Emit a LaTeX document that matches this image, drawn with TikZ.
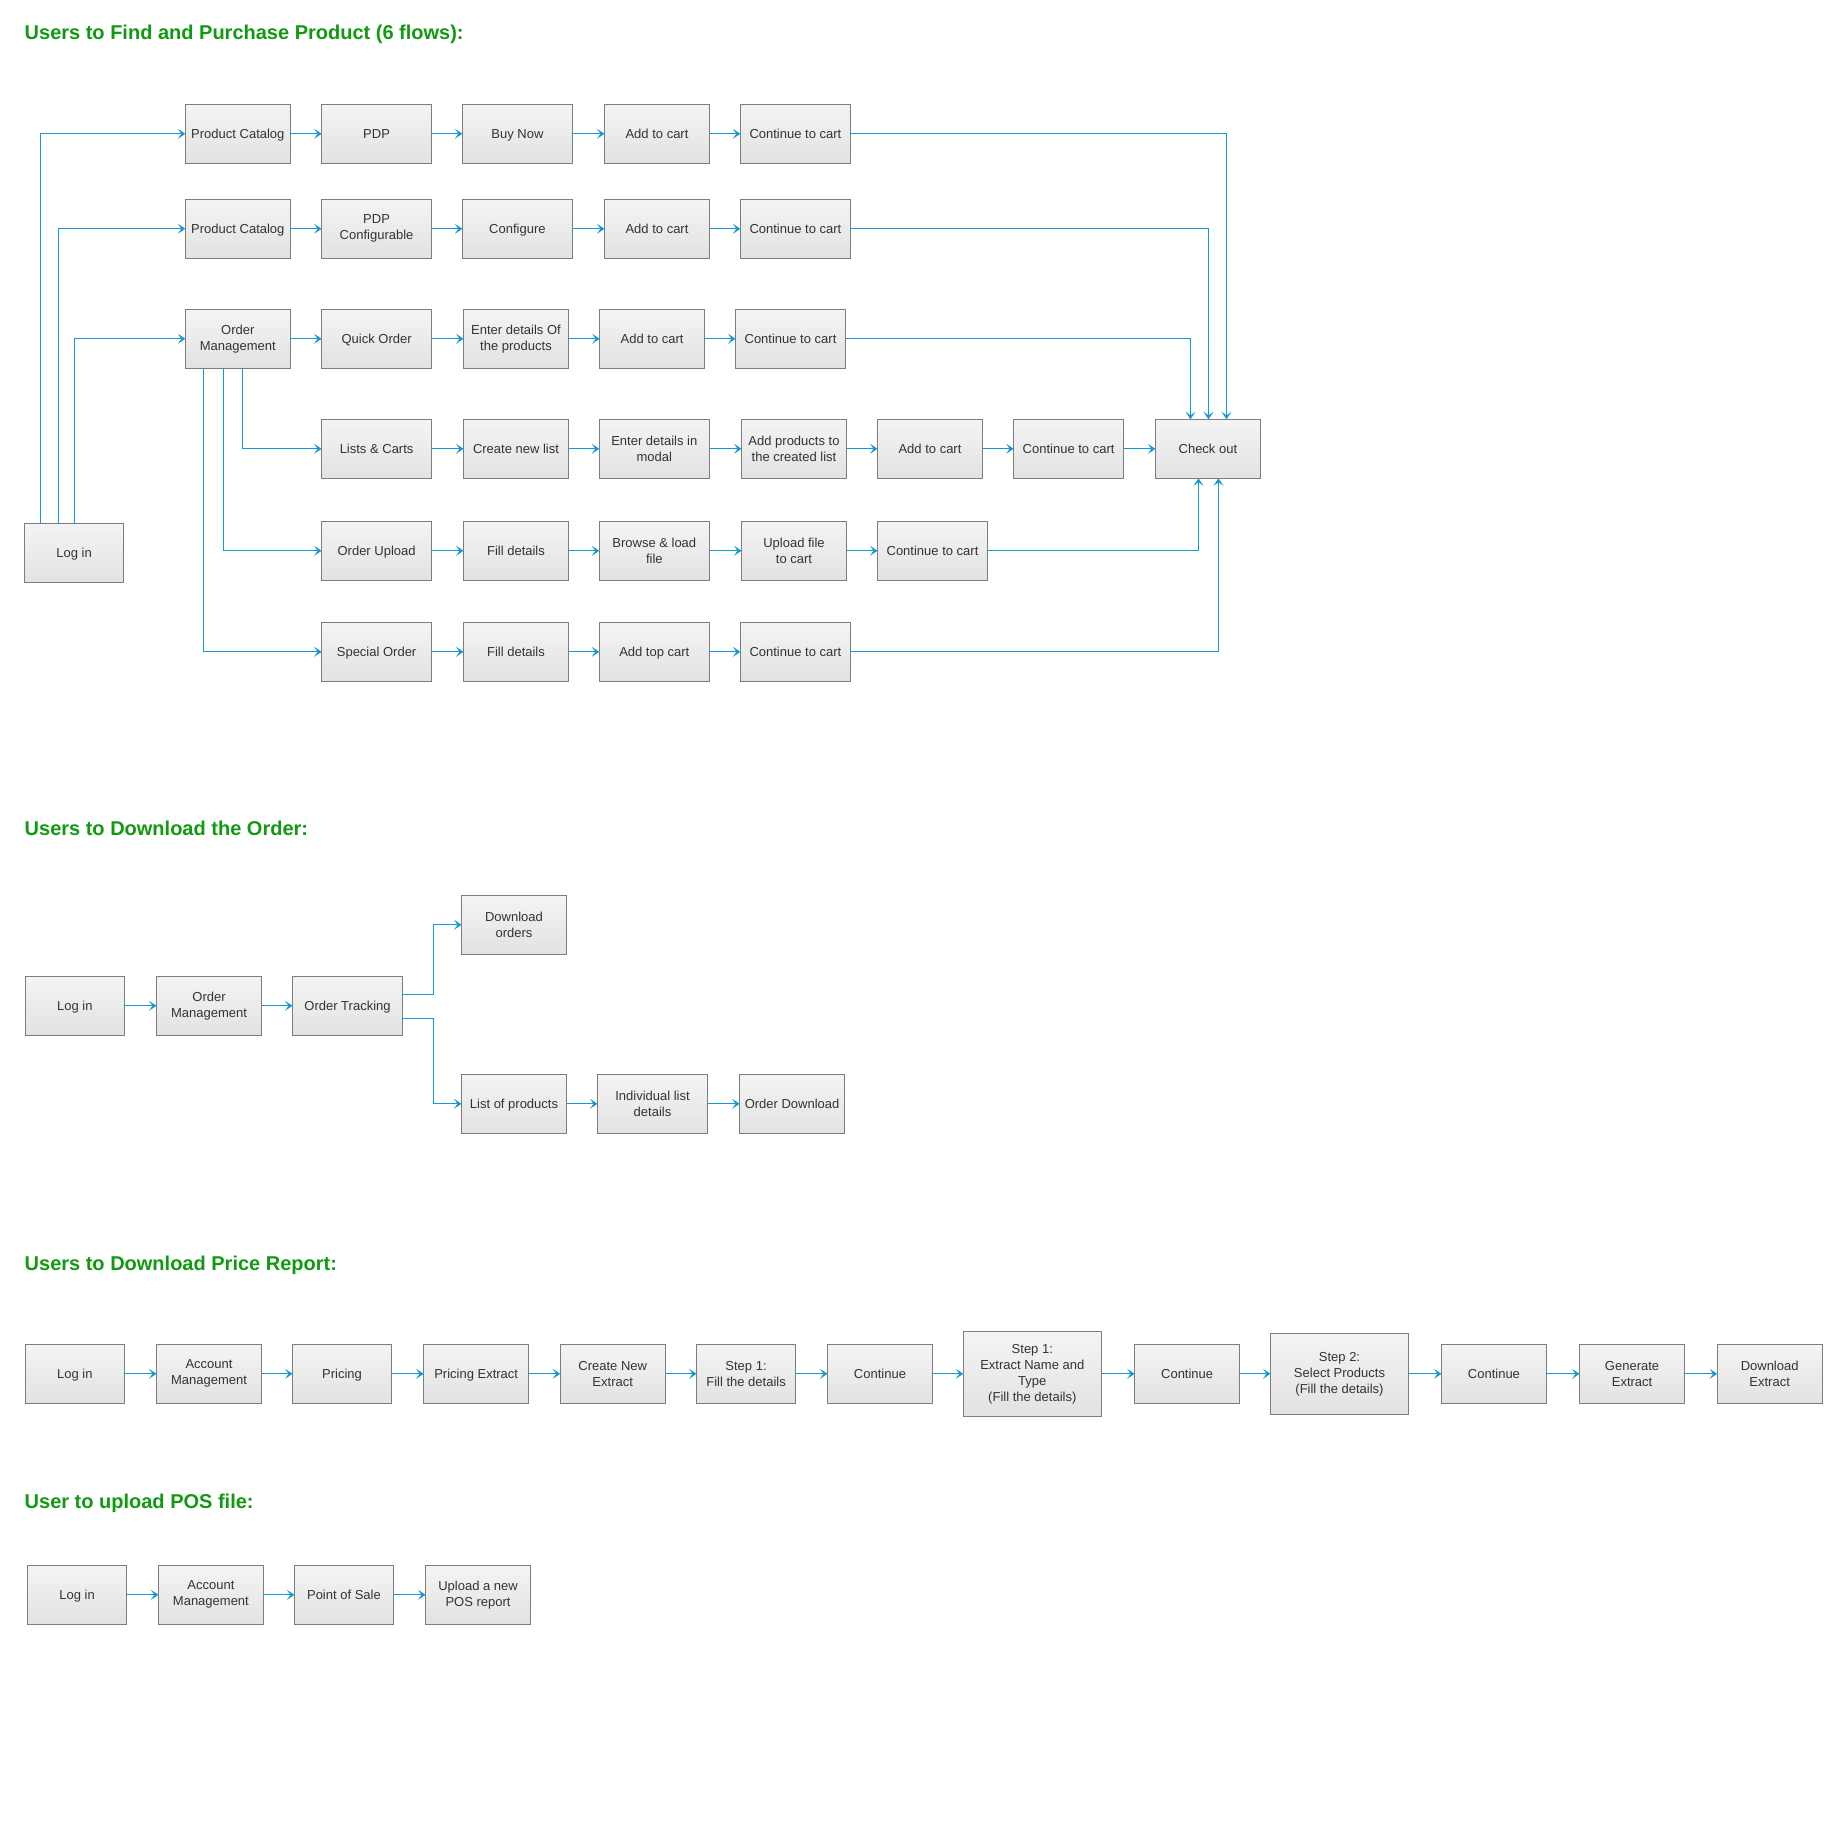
\documentclass[tikz,border=0pt]{standalone}
\usepackage{fontspec}
\setmainfont{Liberation Sans}
\usetikzlibrary{arrows.meta}
\definecolor{linec}{RGB}{20,154,210}
\definecolor{boxline}{RGB}{125,125,125}
\definecolor{boxtop}{RGB}{244,244,244}
\definecolor{boxbot}{RGB}{226,226,226}
\definecolor{txt}{RGB}{51,51,51}
\definecolor{ttl}{RGB}{17,153,17}
\begin{document}
\begin{tikzpicture}[x=1pt,y=-1pt,
 box/.style={draw=boxline, line width=1.3pt, top color=boxtop, bottom color=boxbot,
   minimum height=59pt, minimum width=105pt, inner sep=2pt, outer sep=0pt,
   align=center, font=\fontsize{13}{16}\selectfont, text=txt},
 one/.style={text height=11.8pt, text depth=2.8pt},
 wide/.style={minimum width=110pt},
 narrow/.style={minimum width=99pt},
 arr/.style={draw=linec, line width=1.2pt, -{Stealth[length=7.5pt,width=10pt,inset=3.5pt]}},
 ttlstyle/.style={anchor=base west, font=\fontsize{20}{24}\selectfont\bfseries, text=ttl, inner sep=0pt}]
\useasboundingbox (0,0) rectangle (1823,1825);

% ---------------- Section 1 ----------------
\node[ttlstyle] (t1) at (24.5,39.5) {Users to Find and Purchase Product (6 flows):};

\node[box,one] (pc1) at (237.85,133.8) {Product Catalog};
\node[box,wide,one] (pdp1) at (376.6,133.8) {PDP};
\node[box,wide,one] (buy) at (517.4,133.8) {Buy Now};
\node[box,one] (atc1) at (657,133.8) {Add to cart};
\node[box,wide,one] (ctc1) at (795.4,133.8) {Continue to cart};

\node[box,one] (pc2) at (237.85,228.8) {Product Catalog};
\node[box,wide] (pdp2) at (376.6,228.8) {PDP\\Configurable};
\node[box,wide,one] (conf) at (517.4,228.8) {Configure};
\node[box,one] (atc2) at (657,228.8) {Add to cart};
\node[box,wide,one] (ctc2) at (795.4,228.8) {Continue to cart};

\node[box] (om) at (237.85,338.8) {Order\\Management};
\node[box,wide,one] (qo) at (376.6,338.8) {Quick Order};
\node[box] (edp) at (516,338.8) {Enter details Of\\the products};
\node[box,one] (atc3) at (652.1,338.8) {Add to cart};
\node[box,wide,one] (ctc3) at (790.5,338.8) {Continue to cart};

\node[box,wide,one] (lc) at (376.6,448.8) {Lists \& Carts};
\node[box,one] (cnl) at (516,448.8) {Create new list};
\node[box,wide] (edm) at (654.3,448.8) {Enter details in\\modal};
\node[box] (apl) at (794,448.8) {Add products to\\the created list};
\node[box,one] (atc4) at (930,448.8) {Add to cart};
\node[box,wide,one] (ctc4) at (1068.6,448.8) {Continue to cart};
\node[box,one] (co) at (1207.9,448.8) {Check out};

\node[box,wide,one] (ou) at (376.6,550.8) {Order Upload};
\node[box,one] (fd1) at (516,550.8) {Fill details};
\node[box,wide] (bl) at (654.3,550.8) {Browse \& load\\file};
\node[box] (uf) at (794,550.8) {Upload file\\to cart};
\node[box,wide,one] (ctc5) at (932.5,550.8) {Continue to cart};

\node[box,wide,one] (so) at (376.6,651.8) {Special Order};
\node[box,one] (fd2) at (516,651.8) {Fill details};
\node[box,wide,one] (atc6) at (654.3,651.8) {Add top cart};
\node[box,wide,one] (ctc6) at (795.4,651.8) {Continue to cart};

\node[box,narrow,one] (login1) at (74.05,553) {Log in};

\draw[arr] ([xshift=-33.55pt]login1.north) |- (pc1.west);
\draw[arr] ([xshift=-15.55pt]login1.north) |- (pc2.west);
\draw[arr] ([xshift=0.45pt]login1.north) |- (om.west);

\draw[arr] (pc1) -- (pdp1);
\draw[arr] (pdp1) -- (buy);
\draw[arr] (buy) -- (atc1);
\draw[arr] (atc1) -- (ctc1);

\draw[arr] (pc2) -- (pdp2);
\draw[arr] (pdp2) -- (conf);
\draw[arr] (conf) -- (atc2);
\draw[arr] (atc2) -- (ctc2);

\draw[arr] (om) -- (qo);
\draw[arr] (qo) -- (edp);
\draw[arr] (edp) -- (atc3);
\draw[arr] (atc3) -- (ctc3);

\draw[arr] ([xshift=4.35pt]om.south) |- (lc.west);
\draw[arr] ([xshift=-14.35pt]om.south) |- (ou.west);
\draw[arr] ([xshift=-34.35pt]om.south) |- (so.west);

\draw[arr] (lc) -- (cnl);
\draw[arr] (cnl) -- (edm);
\draw[arr] (edm) -- (apl);
\draw[arr] (apl) -- (atc4);
\draw[arr] (atc4) -- (ctc4);
\draw[arr] (ctc4) -- (co);

\draw[arr] (ou) -- (fd1);
\draw[arr] (fd1) -- (bl);
\draw[arr] (bl) -- (uf);
\draw[arr] (uf) -- (ctc5);

\draw[arr] (so) -- (fd2);
\draw[arr] (fd2) -- (atc6);
\draw[arr] (atc6) -- (ctc6);

\draw[arr] (ctc1.east) -| ([xshift=18.6pt]co.north);
\draw[arr] (ctc2.east) -| ([xshift=0.6pt]co.north);
\draw[arr] (ctc3.east) -| ([xshift=-17.4pt]co.north);
\draw[arr] (ctc5.east) -| ([xshift=-9.4pt]co.south);
\draw[arr] (ctc6.east) -| ([xshift=10.6pt]co.south);

% ---------------- Section 2 ----------------
\node[ttlstyle] (t2) at (24.5,835) {Users to Download the Order:};

\node[box,narrow,one] (login2) at (74.85,1005.8) {Log in};
\node[box] (om2) at (209,1005.8) {Order\\Management};
\node[box,wide,one] (ot) at (347.5,1005.8) {Order Tracking};
\node[box] (dlo) at (514,924.8) {Download\\orders};
\node[box,one] (lop) at (514,1103.8) {List of products};
\node[box,wide] (ild) at (652.5,1103.8) {Individual list\\details};
\node[box,one] (odl) at (792.1,1103.8) {Order Download};

\draw[arr] (login2) -- (om2);
\draw[arr] (om2) -- (ot);
\draw[arr] ([yshift=11.5pt]ot.east) -- ++(30.9,0) |- (dlo.west);
\draw[arr] ([yshift=-12.5pt]ot.east) -- ++(30.9,0) |- (lop.west);
\draw[arr] (lop) -- (ild);
\draw[arr] (ild) -- (odl);

% ---------------- Section 3 ----------------
\node[ttlstyle] (t3) at (24.5,1270) {Users to Download Price Report:};

\node[box,narrow,one] (login3) at (74.85,1373.8) {Log in};
\node[box] (am3) at (209,1373.8) {Account\\Management};
\node[box,narrow,one] (pr) at (342.05,1373.8) {Pricing};
\node[box,one] (pe) at (476.15,1373.8) {Pricing Extract};
\node[box] (cne) at (612.7,1373.8) {Create New\\Extract};
\node[box,narrow] (s1f) at (746.05,1373.8) {Step 1:\\Fill the details};
\node[box,one] (cnt1) at (880,1373.8) {Continue};
\node[box,minimum width=138pt,minimum height=85pt] (s1e) at (1032.3,1373.8) {Step 1:\\Extract Name and\\Type\\(Fill the details)};
\node[box,one] (cnt2) at (1187.15,1373.8) {Continue};
\node[box,minimum width=138pt,minimum height=81pt] (s2) at (1339.5,1373.8) {Step 2:\\Select Products\\(Fill the details)};
\node[box,one] (cnt3) at (1493.95,1373.8) {Continue};
\node[box] (gen) at (1632.05,1373.8) {Generate\\Extract};
\node[box] (dle) at (1769.65,1373.8) {Download\\Extract};

\draw[arr] (login3) -- (am3);
\draw[arr] (am3) -- (pr);
\draw[arr] (pr) -- (pe);
\draw[arr] (pe) -- (cne);
\draw[arr] (cne) -- (s1f);
\draw[arr] (s1f) -- (cnt1);
\draw[arr] (cnt1) -- (s1e);
\draw[arr] (s1e) -- (cnt2);
\draw[arr] (cnt2) -- (s2);
\draw[arr] (s2) -- (cnt3);
\draw[arr] (cnt3) -- (gen);
\draw[arr] (gen) -- (dle);

% ---------------- Section 4 ----------------
\node[ttlstyle] (t4) at (24.5,1508) {User to upload POS file:};

\node[box,narrow,one] (login4) at (77.05,1594.8) {Log in};
\node[box] (am4) at (210.9,1594.8) {Account\\Management};
\node[box,narrow,one] (pos) at (343.95,1594.8) {Point of Sale};
\node[box] (upl) at (478.05,1594.8) {Upload a new\\POS report};

\draw[arr] (login4) -- (am4);
\draw[arr] (am4) -- (pos);
\draw[arr] (pos) -- (upl);
\end{tikzpicture}
\end{document}
